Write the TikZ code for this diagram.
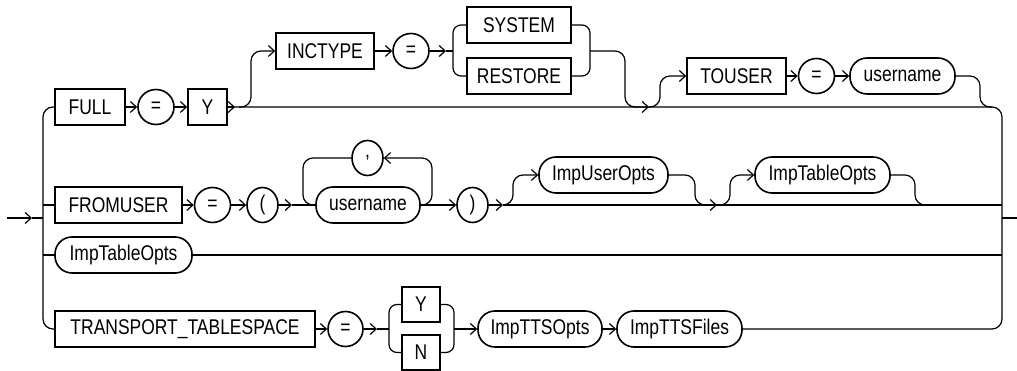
\documentclass[tikz,border=0pt]{standalone}
\usepackage{fontspec}
\setmainfont{Liberation Sans}[FakeStretch=0.82]
\usetikzlibrary{arrows.meta,shapes.geometric}

\begin{document}
\begin{tikzpicture}[x=1pt,y=-1pt,line width=1.2pt,
	>={Straight Barb[length=6pt,width=11pt]},
	font=\fontsize{21.3}{25}\selectfont,
	kwbox/.style={draw,rectangle,line width=1.6pt,minimum height=36,inner sep=0pt},
	refbox/.style={draw,rectangle,rounded corners=17pt,line width=1.6pt,minimum height=36,inner sep=0pt},
	symbox/.style={draw,ellipse,line width=1.6pt,minimum width=35,minimum height=35,inner sep=0pt},
	rail/.style={rounded corners=10pt}]
	    
	    \useasboundingbox (0,0) rectangle (1017,371);
	    
	    % Rails and entry / exit points
	    \coordinate (in) at (7,218);
	    \coordinate (out) at (1017,218);
	    \coordinate (lin) at (43,218);
	    \coordinate (rout) at (1002,218);
	    \coordinate (rtop) at (1002,107);
	    \coordinate (rbot) at (1002,329);
	    
	    % Row 1: FULL = Y
	    \node[kwbox,minimum width=70] (full) at (90,107) {FULL};
	    \node[symbox,minimum width=36] (eq1) at (156,107) {=};
	    \node[kwbox,minimum width=39] (fully) at (207.5,107) {Y};
	    \node[kwbox,minimum width=98] (inctype) at (325,51) {INCTYPE};
	    \node[symbox,minimum width=36] (eq2) at (411,51) {=};
	    \node[kwbox,minimum width=104] (system) at (519,25) {SYSTEM};
	    \node[kwbox,minimum width=104] (restore) at (519,76) {RESTORE};
	    \node[kwbox,minimum width=99] (touser) at (736.5,76) {TOUSER};
	    \node[symbox,minimum width=36] (eq3) at (816.5,76) {=};
	    \node[refbox,minimum width=105] (uname1) at (902.5,76) {username};
	    
	    % Row 2: FROMUSER = ( username ) ...
	    \node[kwbox,minimum width=127] (fromuser) at (118.5,205) {FROMUSER};
	    \node[symbox,minimum width=36] (eq4) at (212.5,205) {=};
	    \node[symbox,minimum width=31] (lpar) at (262.5,205) {(};
	    \node[symbox,minimum width=31] (comma) at (367.5,158) {,};
	    \node[refbox,minimum width=104] (uname2) at (368,205) {username};
	    \node[symbox,minimum width=31] (rpar) at (472.5,205) {)};
	    \node[refbox,minimum width=129] (useropts) at (603.5,175) {ImpUserOpts};
	    \node[refbox,minimum width=135] (tabopts1) at (822.5,175) {ImpTableOpts};
	    
	    % Row 3: ImpTableOpts
	    \node[refbox,minimum width=137] (tabopts2) at (123.5,255) {ImpTableOpts};
	    
	    % Row 4: TRANSPORT_TABLESPACE = Y | N ...
	    \node[kwbox,minimum width=260] (transp) at (185,329) {TRANSPORT\_TABLESPACE};
	    \node[symbox,minimum width=35] (eq5) at (345.5,329) {=};
	    \node[kwbox,minimum width=38,minimum height=35] (tsy) at (421,304.5) {Y};
	    \node[kwbox,minimum width=38,minimum height=35] (tsn) at (421,352.5) {N};
	    \node[refbox,minimum width=124] (ttsopts) at (540,329) {ImpTTSOpts};
	    \node[refbox,minimum width=125] (ttsfiles) at (679.5,329) {ImpTTSFiles};
	    
	    % Entry, exit and the two rails
	    \draw[->] (in) -- (32,218);
	    \draw (32,218) -- (lin);
	    \draw (rout) -- (out);
	    \draw[rail] (full.west) -- (43,107) -- (43,329) -- (transp.west);
	    \draw (43,205) -- (fromuser.west);
	    \draw (43,255) -- (tabopts2.west);
	    \draw[rail] (fully.east) -- (rtop) -- (rbot) -- (ttsfiles.east);
	    
	    % Row 1 connectors
	    \draw[->] (full.east) -- (eq1.west);
	    \draw[->] (eq1.east) -- (fully.west);
	    \draw[->] (fully.east) -- (235,107);
	    \draw[->,rail] (239,107) -| (251,51) -- (inctype.west);
	    \draw[->] (inctype.east) -- (eq2.west);
	    \draw[->] (eq2.east) -- (446,51);
	    \draw (446,51) -- (453,51);
	    \draw[rounded corners=8pt] (system.west) -| (453,51) |- (restore.west);
	    \draw[rounded corners=8pt] (system.east) -| (590,51) |- (restore.east);
	    \draw[->,rail] (590,51) -| (625,107) -- (649,107);
	    \draw[->,rail] (649,107) -| (660,76) -- (touser.west);
	    \draw[->] (touser.east) -- (eq3.west);
	    \draw[->] (eq3.east) -- (uname1.west);
	    \draw[rail] (uname1.east) -| (980,107) -- (992,107);
	    
	    % Row 2 connectors
	    \draw[->] (fromuser.east) -- (eq4.west);
	    \draw[->] (eq4.east) -- (lpar.west);
	    \draw[->] (lpar.east) -- (292,205);
	    \draw (292,205) -- (uname2.west);
	    \draw[rail] (comma.west) -| (303,205) -- (uname2.west);
	    \draw[->,rail] (uname2.east) -| (432,158) -- (comma.east);
	    \draw[->] (uname2.east) -- (rpar.west);
	    \draw[->] (rpar.east) -- (503,205);
	    \draw (503,205) -- (rout |- rpar);
	    \draw[->,rail] (503,205) -| (513,175) -- (useropts.west);
	    \draw[->,rail] (useropts.east) -| (695,205) -- (717,205);
	    \draw[->,rail] (717,205) -| (730,175) -- (tabopts1.west);
	    \draw[rail] (tabopts1.east) -| (915,205) -- (927,205);
	    
	    % Row 3 connector
	    \draw (tabopts2.east) -- (rout |- tabopts2);
	    
	    % Row 4 connectors
	    \draw[->] (transp.east) -- (eq5.west);
	    \draw[->] (eq5.east) -- (377,329);
	    \draw (377,329) -- (389,329);
	    \draw[rounded corners=8pt] (tsy.west) -| (389,329) |- (tsn.west);
	    \draw[rounded corners=8pt] (tsy.east) -| (454,329) |- (tsn.east);
	    \draw[->] (454,329) -- (ttsopts.west);
	    \draw[->] (ttsopts.east) -- (ttsfiles.west);
	    
	    \end{tikzpicture}
\end{document}
